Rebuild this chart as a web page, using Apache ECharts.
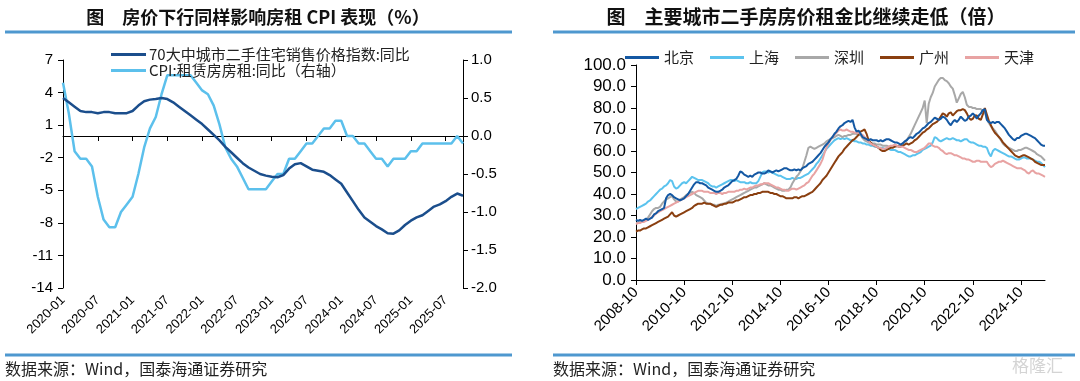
<!DOCTYPE html>
<html><head><meta charset="utf-8">
<script src="https://cdn.jsdelivr.net/npm/echarts@6/dist/echarts.min.js"></script>
<style>html,body{margin:0;padding:0;background:#fff}#c{width:1080px;height:381px}</style>
</head><body><div id="c"></div><script>
function monthRange(y, m, n) {
  const out = [];
  for (let i = 0; i < n; i++) {
    const mm = m - 1 + i;
    const yy = y + Math.floor(mm / 12);
    const mo = (mm % 12) + 1;
    out.push(yy + '-' + (mo < 10 ? '0' + mo : mo));
  }
  return out;
}
// ---- Left chart data (2020-01 .. 2025-10) ----
const leftMonths = monthRange(2020, 1, 70);
const leftNames = ['70大中城市二手住宅销售价格指数:同比', 'CPI:租赁房房租:同比（右轴）'];
const houseYoY = [3.5,3.1,2.7,2.3,2.2,2.2,2.1,2.2,2.2,2.1,2.1,2.1,
2.3,2.8,3.2,3.35,3.4,3.5,3.4,3.1,2.7,2.3,1.9,1.5,
1.1,0.6,0.1,-0.4,-1.0,-1.5,-2.0,-2.5,-2.9,-3.2,-3.5,-3.65,
-3.75,-3.8,-3.6,-3.0,-2.6,-2.5,-2.8,-3.1,-3.2,-3.3,-3.6,-4.0,
-4.4,-5.2,-6.0,-6.8,-7.5,-7.9,-8.3,-8.6,-8.95,-9.0,-8.7,-8.2,
-7.8,-7.5,-7.3,-6.9,-6.5,-6.3,-6.0,-5.6,-5.3,-5.5];
const rentYoY = [0.7,0.3,-0.2,-0.3,-0.3,-0.4,-0.8,-1.1,-1.2,-1.2,-1.0,-0.9,
-0.8,-0.5,-0.15,0.1,0.25,0.55,0.8,0.8,0.8,0.8,0.8,0.7,
0.6,0.55,0.4,0.15,-0.15,-0.3,-0.4,-0.55,-0.7,-0.7,-0.7,-0.7,
-0.6,-0.5,-0.5,-0.3,-0.3,-0.2,-0.1,-0.1,0.0,0.1,0.1,0.2,
0.2,0.0,0.0,-0.1,-0.1,-0.2,-0.3,-0.3,-0.4,-0.3,-0.3,-0.3,
-0.2,-0.2,-0.1,-0.1,-0.1,-0.1,-0.1,-0.1,0.0,-0.1];
// ---- Right chart data (2008-10 .. 2025-10) ----
const rightMonths = monthRange(2008, 10, 205);
const cityNames = ['北京', '上海', '深圳', '广州', '天津'];
const beijing = [28,27.5,28,27.5,28,28.5,28,28.5,29,30.5,31,32,
32.5,33,33.5,38,39.5,40,39.5,38.5,38,37.5,37,37.5,
38,39,40,41.5,43,44.5,45.5,45.5,45,45,44.5,44,
43,42.5,42,41.5,41,41,41.5,42,43,43.5,44,45,
46,46.5,47,48.5,50.5,50,49,48.5,48,48.5,48,49,
49.5,50,50,49.5,49.5,50,51,50.5,50,50.5,51,50.5,
51,51.5,52,52,51.5,51,51,51.5,51,51.5,51,52,
52.5,53,54,54.5,55,56,57,58,59,60.5,62,63,
64,65.5,66.5,68,69,70.5,71.5,72,73,73.5,74,73.5,
74.5,71,69,69.5,68,66.5,66,65.5,65,65.5,65,65,
65,64.5,65,64.5,65,65.5,65.5,65,64.5,64,64,63.5,
63,63.5,64.5,65,66,66.5,66,67,68,68.5,69.5,70.5,
71,72,73,73.5,74.5,75.5,75,74.5,75,76,75.5,74.5,
73,72,73.5,74.5,73.5,74.5,76,75,74,74.5,76,76.5,
77.5,76.5,75,76.5,77.5,79,79.5,74.5,73.5,73,73.5,73,
73.5,73.5,72.5,71.5,70.5,69,67.5,66.5,65.5,65,66,66,
67,67.5,68,68,67.5,67,66.5,66,65,64,63,62.5,
62.5];
const shanghai = [33,33.5,34,34.5,35,35.5,36.5,37,38,39,40,41,
42,42.5,43.5,44,45,46.5,46,43.5,42.5,43,44,45,
45.5,45,46,47,48,47.5,47,46.5,46.5,46.5,46,45.5,
45,44,43.5,43.5,43,43.5,44,44.5,45,45.5,46,46.5,
46.5,46,46.5,46,45.5,45.5,45.5,45,45,45.5,45,45,
45,46,48,50,50.5,50.5,50,50.5,50,49.5,49,48.5,
48.5,48,47.5,47,47,47,47.5,47,47,47.5,47.5,48,
48.5,49,49.5,50.5,51.5,52.5,54,55,56.5,58,59.5,61,
62,63,64,65,65.5,66,65.5,66,65.5,66,65.5,65,
65,64.5,64.5,64,64,63.5,63.5,63,63,62.5,62.5,62,
62,61.5,61.5,61.5,61,61,61,60.5,60.5,60.5,60,59.5,
59.5,59,58.5,58,57.5,57.5,58,58,58.5,59,59.5,60.5,
61,61.5,62,62.5,64,66.5,66,65,64.5,65,65.5,66,
65.5,65.5,66,65.5,65,65,64.5,65,65.5,65.5,64.5,64,
64,63.5,63,62.5,62.5,62,62,61.5,59,57.5,60,61,
60.5,60,59.5,59,58.5,58,57.5,57.5,57,56.5,56,56,
56.5,57,57,56.5,56.5,56.5,56,55.5,55,55,54.5,53.5,
52.5];
const shenzhen = [26.5,26.5,27,27,27.5,28,29,30.5,32,33,33.5,33.5,
34,35.5,36.5,37.5,38,38.5,39,37.5,36.5,36.5,37.5,38,
38.5,39.5,40,40.5,41,40.5,39.5,39,38.5,38,37,36,
35.5,35.5,35,35,34.5,35,35,35.5,35.5,36,36.5,37,
37.5,38,38.5,39,39.5,40,40.5,41,41.5,42,42.5,43,
43,43.5,44,44.5,45,44.5,44,44,43.5,43,42.5,42,
42,41.5,41.5,42,42,43,45,46.5,48,49,50.5,52,
55,58,61.5,62,61.5,61,61.5,62,62.5,63,63.5,64.5,
65,65.5,66,66.5,67,67.5,67,66.5,67,67,67.5,67.5,
68,68,68,67.5,67.5,66,65,64.5,64,63.5,63.5,63.5,
63,63,63,62.5,62.5,62.5,62,62,62,62,62,62.5,
63,63.5,64,65,66.5,68,70,72,74,76,78,80,
83.5,73,82,85,87,90,91.5,93,94,94,93,92.5,
91.5,90,89,86,82.5,84.5,86.5,87.5,85,81.5,80.5,80.5,
80,80,79.5,79.5,79.5,78.5,78,75,73,71.5,70.5,69.5,
68,66.5,65,63.5,62.5,62,61.5,61,60.5,60,60,60.5,
60.5,61,61.5,61.5,61,60.5,60,59.5,58.5,58,57.5,56.5,
55.5];
const guangzhou = [22.5,23,23,23.5,24,24,24.5,25,25.5,26,26.5,27,
27.5,28,28.5,29,29.5,30.5,31.5,30,29.5,30,30.5,31,
31.5,32,32.5,33,33.5,34.5,35,35.5,35.5,35.5,36,35.5,
35.5,35.5,35,34.5,34,34.5,35,35,35.5,35.5,36,36,
36,36.5,37,37,37.5,38,38.5,38.5,39,39.5,39.5,40,
40,40.5,40.5,41,41,41,41,40.5,40.5,40,40,39.5,
39,39,38.5,38,38,38,38,38.5,38.5,38,38.5,39,
39,39.5,40,40.5,41,42,43,44,45,46.5,47.5,48.5,
50,51.5,53,54.5,56,57.5,58.5,59.5,61,62,63,64,
65,65.5,66.5,67.5,69,69.5,70,68,65,64,63,62.5,
62,61.5,60.5,60,60,60.5,61,61.5,61.5,62,62.5,62,
62,62.5,63,63.5,63,63.5,64,65,65.5,66.5,67.5,68.5,
69,70,70.5,71.5,72.5,73,73.5,74.5,76,77.5,77,76,
77.5,78,76.5,77.5,78.5,79,79,79.5,79,77.5,75.5,74.5,
75,76.5,76.5,75,74.5,77,80,77,74,72,70,68.5,
67.5,66.5,65.5,64,63,62,61,60,59,58,57.5,57,
57.5,58,58,57.5,57,56.5,56,55,54.5,54,53.5,53.5,
53.5];
const tianjin = [26,26.5,26.5,27,27,27.5,28,28.5,29.5,30,31,31.5,
32,32.5,33,33.5,34,34.5,35,35.5,36,36.5,37,37.5,
38,38.5,39,39.5,40,40.5,41,41.5,41.5,41.5,41,41,
41,40.5,40.5,40.5,40,40.5,40.5,40,40.5,40.5,41,41,
41,41,41.5,41.5,42,42,42.5,42,42.5,43,43,43.5,
44,44,44.5,44.5,45,45,45,44.5,44,43.5,43,43,
42.5,42,42,41.5,41.5,42,42.5,42.5,42,42.5,43,43.5,
44,45,45.5,47,48.5,49.5,51,52.5,54,56,59,61.5,
63.5,65,66.5,67.5,68.5,69.5,70,69.5,69.5,70,69.5,69,
69,68.5,68.5,68.5,68,67.5,66.5,65.5,64.5,63.5,63,62.5,
62,61.5,61.5,61,61,61.5,62,62.5,62.5,63,62.5,62,
62,62,61.5,61,60.5,60.5,60,59.5,59.5,60,60.5,61,
61.5,62.5,63.5,63.5,62.5,62,62,61.5,60.5,60,59,58.5,
59,59,58.5,58,58,57.5,57,56.5,56.5,56,56,55.5,
55,55,55.5,55.5,55,55,55,55,53.5,52.5,53,54,
54.5,55,55,55.5,55,54.5,54,53.5,53,52.5,52,52,
52,51.5,51,50,49.5,50.5,51,50,49.5,49.5,49,48.5,
48];

const C_DARK = '#1B4E8C', C_LIGHT = '#5CC0EC';
const cityColors = ['#1458A3', '#5BC3EE', '#A8A8A8', '#8A3F10', '#E8A3A3'];
const NUM = 'Liberation Sans';
const CJK = '"Noto Sans CJK SC", sans-serif';
const axisBlack = { color: '#000', width: 1 };

const chart = echarts.init(document.getElementById('c'), null, { renderer: 'canvas' });
const citySeries = [beijing, shanghai, shenzhen, guangzhou, tianjin].map((d, i) => ({
  name: cityNames[i], type: 'line', xAxisIndex: 2, yAxisIndex: 2, data: d,
  showSymbol: false, symbol: 'none', lineStyle: { width: 2, color: cityColors[i] }, itemStyle: { color: cityColors[i] },
  z: 2 + (i === 0 ? 3 : 0)
}));
const option = {
  animation: false,
  backgroundColor: '#fff',
  grid: [
    { left: 63, right: 617, top: 60, bottom: 93 },
    { left: 636, right: 35, top: 65, bottom: 101 }
  ],
  legend: [
    { data: leftNames, orient: 'vertical', left: 106, top: 42, itemWidth: 35, itemHeight: 3, itemGap: 1,
      icon: 'rect', textStyle: { fontSize: 15, color: '#222', fontFamily: CJK, padding: [0, 0, 0, -2] } },
    { data: cityNames, orient: 'horizontal', left: 620, top: 45, itemWidth: 34, itemHeight: 3, itemGap: 16,
      icon: 'rect', textStyle: { fontSize: 15, color: '#222', fontFamily: CJK } }
  ],
  xAxis: [
    { gridIndex: 0, type: 'category', data: leftMonths, boundaryGap: false,
      axisLine: { onZero: true, lineStyle: axisBlack }, axisTick: { interval: 5, length: 5, lineStyle: axisBlack },
      axisLabel: { show: false }, splitLine: { show: false } },
    { gridIndex: 0, type: 'category', data: leftMonths, boundaryGap: false, position: 'bottom',
      axisLine: { show: false, onZero: false }, axisTick: { show: false },
      axisLabel: { interval: 5, rotate: 45, margin: 10, fontSize: 13, color: '#000', fontFamily: NUM } },
    { gridIndex: 1, type: 'category', data: rightMonths, boundaryGap: false,
      axisLine: { lineStyle: axisBlack }, axisTick: { interval: 23, length: 5, lineStyle: axisBlack },
      axisLabel: { interval: 23, rotate: 45, margin: 10, fontSize: 15, color: '#000', fontFamily: NUM } }
  ],
  yAxis: [
    { gridIndex: 0, type: 'value', min: -14, max: 7, interval: 3, position: 'left',
      axisLine: { show: true, onZero: false, lineStyle: axisBlack }, axisTick: { show: true, length: 5, lineStyle: axisBlack },
      splitLine: { show: false }, axisLabel: { fontSize: 15, color: '#000', fontFamily: NUM, margin: 10 } },
    { gridIndex: 0, type: 'value', min: -2, max: 1, interval: 0.5, position: 'right',
      axisLine: { show: true, onZero: false, lineStyle: axisBlack }, axisTick: { show: true, length: 5, lineStyle: axisBlack },
      splitLine: { show: false },
      axisLabel: { fontSize: 15, color: '#000', fontFamily: NUM, margin: 8, formatter: v => v.toFixed(1) } },
    { gridIndex: 1, type: 'value', min: 0, max: 100, interval: 10,
      axisLine: { show: true, lineStyle: axisBlack }, axisTick: { show: true, length: 5, lineStyle: axisBlack },
      splitLine: { show: false },
      axisLabel: { fontSize: 17, color: '#000', fontFamily: NUM, margin: 10, formatter: v => v.toFixed(1) } }
  ],
  series: [
    { name: leftNames[0], type: 'line', xAxisIndex: 0, yAxisIndex: 0, data: houseYoY, showSymbol: false, symbol: 'none',
      lineStyle: { width: 2.5, color: C_DARK }, itemStyle: { color: C_DARK }, z: 3 },
    { name: leftNames[1], type: 'line', xAxisIndex: 0, yAxisIndex: 1, data: rentYoY, showSymbol: false, symbol: 'none',
      lineStyle: { width: 2.5, color: C_LIGHT }, itemStyle: { color: C_LIGHT }, z: 2 }
  ].concat(citySeries),
  graphic: [
    { type: 'text', x: 258, y: 17, style: { text: '图　房价下行同样影响房租 CPI 表现（%）', fill: '#111', fontSize: 18, fontWeight: 'bold', fontFamily: CJK, textAlign: 'center', textVerticalAlign: 'middle' } },
    { type: 'text', x: 806, y: 17, style: { text: '图　主要城市二手房房价租金比继续走低（倍）', fill: '#111', fontSize: 19, fontWeight: 'bold', fontFamily: CJK, textAlign: 'center', textVerticalAlign: 'middle' } },
    { type: 'line', shape: { x1: 5, y1: 32, x2: 512, y2: 32 }, style: { stroke: '#4E98CF', lineWidth: 3 } },
    { type: 'line', shape: { x1: 553, y1: 32, x2: 1075, y2: 32 }, style: { stroke: '#4E98CF', lineWidth: 3 } },
    { type: 'line', shape: { x1: 5, y1: 355, x2: 512, y2: 355 }, style: { stroke: '#4E98CF', lineWidth: 3 } },
    { type: 'line', shape: { x1: 553, y1: 355, x2: 1075, y2: 355 }, style: { stroke: '#4E98CF', lineWidth: 3 } },
    { type: 'text', x: 5, y: 369, style: { text: '数据来源：Wind，国泰海通证券研究', fill: '#222', fontSize: 16, fontFamily: CJK, textVerticalAlign: 'middle' } },
    { type: 'text', x: 553, y: 369, style: { text: '数据来源：Wind，国泰海通证券研究', fill: '#222', fontSize: 16, fontFamily: CJK, textVerticalAlign: 'middle' } },
    { type: 'text', x: 1012, y: 366, style: { text: '格隆汇', fill: '#d4d4d4', fontSize: 17, fontFamily: CJK, textVerticalAlign: 'middle' } }
  ]
};
chart.setOption(option);
</script></body></html>
